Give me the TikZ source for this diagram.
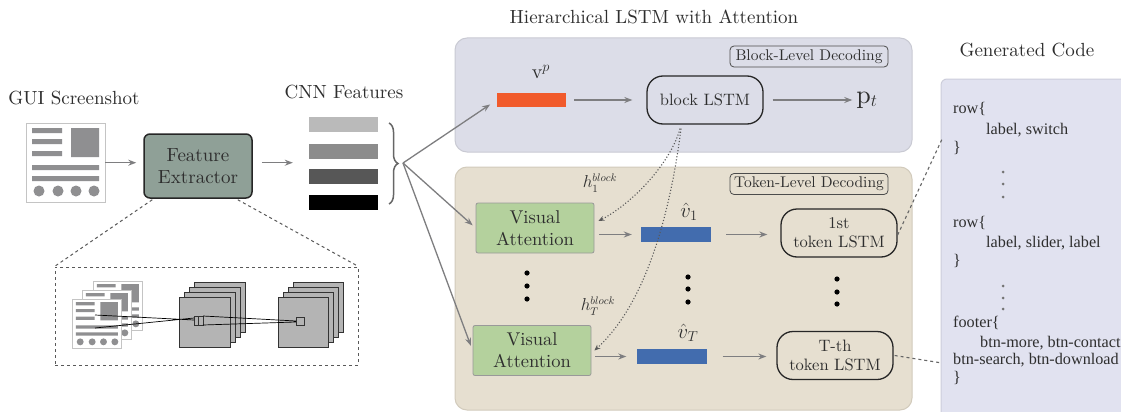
\documentclass[tikz,border=0pt]{standalone}
\usepackage{fontspec}
\setmainfont{lmroman10-regular}[Extension=.otf, ItalicFont=lmroman10-italic, BoldFont=lmroman10-bold]
\newfontfamily\codefont{Liberation Serif}
\usetikzlibrary{arrows.meta,decorations.pathreplacing,calc}
\definecolor{txt}{HTML}{2E2E2E}
\definecolor{arrgray}{HTML}{7E7E80}
\definecolor{fecol}{HTML}{8FA097}
\definecolor{panA}{HTML}{DCDDE8}
\definecolor{panAedge}{HTML}{C9CAD3}
\definecolor{panB}{HTML}{E6DFD0}
\definecolor{panBedge}{HTML}{D2CBBC}
\definecolor{panC}{HTML}{E1E2F0}
\definecolor{panCedge}{HTML}{CDCEDB}
\definecolor{vacol}{HTML}{B4D19D}
\definecolor{orangebar}{HTML}{F15A2B}
\definecolor{bluebar}{HTML}{426CAE}
\definecolor{icongray}{HTML}{8F8F91}
\definecolor{iconedge}{HTML}{C4C4C4}
\definecolor{convgray}{HTML}{B4B4B4}
\begin{document}
\begin{tikzpicture}[x=1pt,y=-1pt,
  arr/.style={draw=arrgray, line width=1.3, -{Stealth[length=8pt,width=6pt]}},
  lbl/.style={text=txt, font=\fontsize{19}{22}\selectfont, inner sep=0},
  febox/.style={draw=black!85, line width=1.5, fill=fecol, rounded corners=6, minimum width=108, minimum height=64, align=center, text=txt, font=\fontsize{19}{22}\selectfont},
  vabox/.style={draw=black!40, line width=0.8, fill=vacol, rounded corners=2, minimum width=118, minimum height=50, align=center, text=txt, font=\fontsize{18.5}{22}\selectfont},
  lstm/.style={draw=black!85, line width=1.3, rounded corners=16, minimum width=116, minimum height=48, align=center, text=txt, font=\fontsize{16.5}{19}\selectfont},
  tag/.style={draw=black!70, line width=0.8, rounded corners=4, minimum width=158, minimum height=21, inner sep=0, text=txt, font=\fontsize{15.5}{17}\selectfont},
  bar/.style={minimum width=70, minimum height=15, inner sep=0},
  code/.style={anchor=west, inner sep=0, text=txt, font=\codefont\fontsize{16.2}{18}\selectfont},
  guiicon/.pic={
    \filldraw[fill=white,draw=iconedge,line width=1] (0,0) rectangle (79,79);
    \fill[icongray] (6,5) rectangle (36,10) (6,16) rectangle (36,21) (6,28) rectangle (36,33)
      (45,5) rectangle (73,34) (6,42) rectangle (73,47) (6,53) rectangle (73,58);
    \foreach \cx in {13,32,50,68} \fill[icongray] (\cx,68) circle[radius=5.5];
  }
]
\useasboundingbox (0,0) rectangle (1121,412);
\fill[white] (0,0) rectangle (1121,412);

% ---------------- left part
\node[lbl] (guit) at (74,98) {GUI Screenshot};
\node[inner sep=0, minimum width=79, minimum height=79, anchor=north west] (gui) at (26,123) {};
\pic at (26,123) {guiicon};
\node[febox] (fe) at (198,166) {Feature\\Extractor};
\node[lbl] (cnnt) at (344,92) {CNN Features};
\node[bar, minimum width=69, fill=black!27] (fb1) at (343.5,124.5) {};
\node[bar, minimum width=69, fill=black!45] (fb2) at (343.5,151.5) {};
\node[bar, minimum width=69, fill=black!66] (fb3) at (343.5,176.5) {};
\node[bar, minimum width=69, fill=black] (fb4) at (343.5,202.5) {};
\draw[arr, shorten >=7pt] (gui.east) -- (gui.east -| fe.west);
\draw[arr, shorten <=9pt, shorten >=16pt] (fe.east |- gui.east) -- (fb2.west |- gui.east);
\draw[decorate, decoration={brace, amplitude=9pt}, draw=black!60, line width=1.5] (389,123) -- (389,204);
\coordinate (bt) at (403,163);

% detail box
\node[draw=black!65, dashed, line width=1, minimum width=303, minimum height=98, inner sep=0] (det) at (206.5,316) {};
\draw[black!65, dashed, line width=1] ($(fe.south west)+(9,1)$) -- (det.north west);
\draw[black!65, dashed, line width=1] ($(fe.south east)+(-15,1)$) -- (det.north east);
\pic[scale=0.63] at (93,281) {guiicon};
\pic[scale=0.63] at (82,290) {guiicon};
\pic[scale=0.63] at (72,299) {guiicon};
\foreach \k in {3,2,1,0} {
  \filldraw[fill=convgray, draw=black!80, line width=0.8] (179+5*\k,297-5*\k) rectangle (230+5*\k,347-5*\k);
  \filldraw[fill=convgray, draw=black!80, line width=0.8] (278+5*\k,297-5*\k) rectangle (328+5*\k,347-5*\k);
}
\draw[black!80, line width=0.8] (194,316) rectangle (203,325) (198,316) -- (198,325);
\draw[black!80, line width=0.8] (296,317) rectangle (304,325);
\coordinate (l1a) at (95,315); \coordinate (l1b) at (194,320);
\coordinate (l2a) at (95,328); \coordinate (l2b) at (194,318);
\coordinate (l3a) at (203,316); \coordinate (l3b) at (296,321);
\coordinate (l4a) at (203,325); \coordinate (l4b) at (296,322);
\draw[black, line width=0.7] (l1a) -- (l1b) (l2a) -- (l2b) (l3a) -- (l3b) (l4a) -- (l4b);

% ---------------- panels
\node[lbl] (hlt) at (654,17) {Hierarchical LSTM with Attention};
\filldraw[fill=panA, draw=panAedge, line width=1, rounded corners=12] (455,38) rectangle (912,152);
\filldraw[fill=panB, draw=panBedge, line width=1, rounded corners=12] (455,167) rectangle (912,410);
\node[tag] (bld) at (809,56.5) {Block-Level Decoding};
\node[tag] (tld) at (809,184) {Token-Level Decoding};

% block level
\node[text=txt, font=\fontsize{20}{22}\selectfont, inner sep=0] (vpt) at (541,72) {$\mathrm{v}^{p}$};
\node[bar, minimum width=69, minimum height=14, fill=orangebar] (vp) at (531.5,100) {};
\node[lstm] (blk) at (705,100) {block LSTM};
\node[text=txt, font=\fontsize{26}{28}\selectfont, inner sep=0] (pt) at (867,100) {$\mathrm{p}_{t}$};
\draw[arr, shorten <=8pt, shorten >=14pt] (vp.east) -- (blk.west);
\draw[arr, shorten <=9pt, shorten >=4pt] (blk.east) -- (pt.west);

% token level
\node[vabox] (va1) at (535,228) {Visual\\Attention};
\node[vabox] (va2) at (532,350.5) {Visual\\Attention};
\node[bar, fill=bluebar] (b1) at (676,234.5) {};
\node[bar, fill=bluebar] (b2) at (671.5,356.5) {};
\node[text=txt, font=\fontsize{20}{22}\selectfont, inner sep=0] (v1t) at (689,212) {$\hat{v}_{1}$};
\node[text=txt, font=\fontsize{20}{22}\selectfont, inner sep=0] (vTt) at (688,333) {$\hat{v}_{T}$};
\node[lstm] (t1) at (839,233) {1st\\token LSTM};
\node[lstm] (tT) at (835,355.5) {T-th\\token LSTM};
\draw[arr, shorten <=5pt, shorten >=9pt] (va1.east |- b1.west) -- (b1.west);
\draw[arr, shorten <=15pt, shorten >=13pt] (b1.east) -- (b1.east -| t1.west);
\draw[arr, shorten <=4pt, shorten >=10pt] (va2.east |- b2.west) -- (b2.west);
\draw[arr, shorten <=16pt, shorten >=10pt] (b2.east) -- (b2.east -| tT.west);
\foreach \yy in {273,286,299} \fill (527,\yy) circle[radius=2.6];
\foreach \yy in {277,289,302} \fill (688,\yy) circle[radius=2.6];
\foreach \yy in {279,292,304} \fill (837,\yy) circle[radius=2.6];
\node[text=txt, font=\fontsize{16}{18}\selectfont, inner sep=0] (h1) at (600,183) {$h_{1}^{block}$};
\node[text=txt, font=\fontsize{16}{18}\selectfont, inner sep=0] (hT) at (598,306) {$h_{T}^{block}$};

% brace arrows
\draw[arr, shorten >=8pt] (bt) -- (vp.west);
\draw[arr, shorten >=4pt] (bt) -- (va1.west);
\draw[arr, shorten >=5pt] (bt) -- (va2.west);

% dotted curves
\draw[black!65, dotted, line width=1.1, -{Stealth[length=6pt,width=5pt]}]
  ($(blk.south)+(-25,4)$) .. controls (670,165) and (630,205) .. ($(va1.east)+(4,-7)$);
\draw[black!65, dotted, line width=1.1, -{Stealth[length=6pt,width=5pt]}]
  ($(blk.south)+(-24,4)$) .. controls (672,200) and (650,300) .. ($(va2.east)+(3,0)$);

% ---------------- generated code
\node[lbl] (gct) at (1027,50) {Generated Code};
\filldraw[fill=panC, draw=panCedge, line width=1, rounded corners=6] (941,79) rectangle (1135,430);
\coordinate (c1) at (943,137);
\coordinate (c2) at (942,363);
\draw[black!60, dashed, line width=1.1] ($(t1.east)+(0,2)$) -- (c1);
\draw[black!60, dashed, line width=1.1] ($(tT.east)+(1,0)$) -- (c2);
\node[code] (r1) at (953,109) {row\{};
\node[code] (r1b) at (986,130) {label, switch};
\node[code] (r1c) at (953,148) {\}};
\foreach \yy in {172,184,197} \fill[black!55] (1003,\yy) circle[radius=1.5];
\node[code] (r2) at (953,223) {row\{};
\node[code] (r2b) at (986,243) {label, slider, label};
\node[code] (r2c) at (953,261) {\}};
\foreach \yy in {286,298,309} \fill[black!55] (1003,\yy) circle[radius=1.5];
\node[code] (r3) at (953,323) {footer\{};
\node[code] (r3b) at (980,343) {btn-more, btn-contact};
\node[code] (r3c) at (953,360) {btn-search, btn-download};
\node[code] (r3d) at (953,378) {\}};
\end{tikzpicture}
\end{document}
